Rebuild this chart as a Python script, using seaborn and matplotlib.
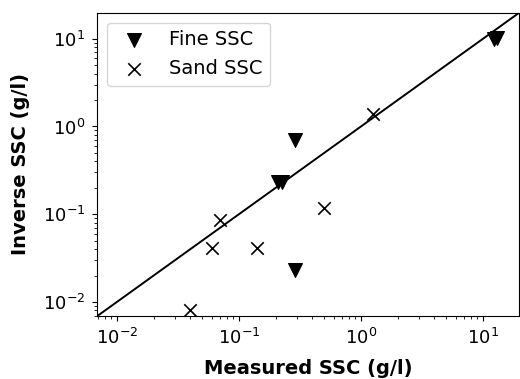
import matplotlib
matplotlib.use('Agg')
import matplotlib.pyplot as plt
import seaborn as sns
import pandas as pd

# measured vs inverse SSC (g/l)
fine_measured = [12.2, 13.0, 0.29, 0.21, 0.225, 0.29]
fine_inverse = [9.8, 10.3, 0.71, 0.23, 0.235, 0.0231]
sand_measured = [1.25, 0.070, 0.060, 0.141, 0.50, 0.040]
sand_inverse = [1.37, 0.086, 0.041, 0.041, 0.117, 0.0082]
lims = [0.0069, 19.7]

fine = pd.DataFrame({'measured': fine_measured, 'inverse': fine_inverse})
sand = pd.DataFrame({'measured': sand_measured, 'inverse': sand_inverse})

plt.rcParams['font.size'] = 14
fig, ax = plt.subplots(figsize=(5.2, 3.79), dpi=100)
fig.subplots_adjust(left=0.187, right=0.998, top=0.966, bottom=0.166)

sns.scatterplot(data=fine, x='measured', y='inverse', marker='v', s=100,
                color='black', edgecolor='black', label='Fine SSC', ax=ax)
sns.scatterplot(data=sand, x='measured', y='inverse', marker='x', s=80,
                color='black', linewidth=1.2, label='Sand SSC', ax=ax)
ax.plot(lims, lims, color='black', linewidth=1.4)

ax.set_xscale('log')
ax.set_yscale('log')
ax.set_xlim(lims)
ax.set_ylim(lims)
ax.tick_params(labelsize=13, pad=5)
ax.set_xlabel('Measured SSC (g/l)', fontweight='bold', fontsize=14, labelpad=8)
ax.set_ylabel('Inverse SSC (g/l)', fontweight='bold', fontsize=14, labelpad=9)
ax.legend(loc='upper left', fontsize=14)

fig.savefig('out.png', dpi=100)
